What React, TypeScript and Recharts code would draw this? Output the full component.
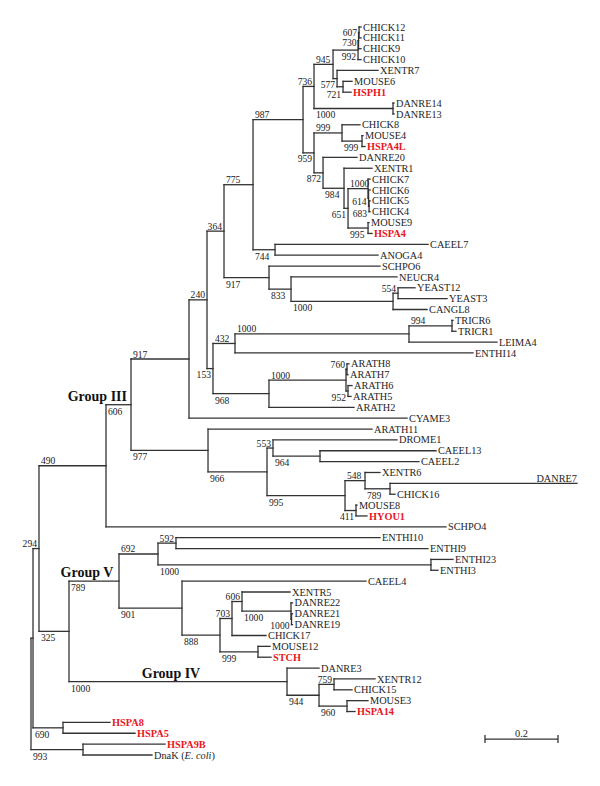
import React from "react";
import { ScatterChart, Scatter, XAxis, YAxis, ReferenceLine } from "recharts";

// leaves, top to bottom
const leafNames = [
  "CHICK12", "CHICK11", "CHICK9", "CHICK10", "XENTR7", "MOUSE6", "HSPH1", "DANRE14", "DANRE13",
  "CHICK8", "MOUSE4", "HSPA4L", "DANRE20", "XENTR1", "CHICK7", "CHICK6", "CHICK5", "CHICK4",
  "MOUSE9", "HSPA4", "CAEEL7", "ANOGA4", "SCHPO6", "NEUCR4", "YEAST12", "YEAST3", "CANGL8",
  "TRICR6", "TRICR1", "LEIMA4", "ENTHI14", "ARATH8", "ARATH7", "ARATH6", "ARATH5", "ARATH2",
  "CYAME3", "ARATH11", "DROME1", "CAEEL13", "CAEEL2", "XENTR6", "DANRE7", "CHICK16", "MOUSE8",
  "HYOU1", "SCHPO4", "ENTHI10", "ENTHI9", "ENTHI23", "ENTHI3", "CAEEL4", "XENTR5", "DANRE22",
  "DANRE21", "DANRE19", "CHICK17", "MOUSE12", "STCH", "DANRE3", "XENTR12", "CHICK15", "MOUSE3",
  "HSPA14", "HSPA8", "HSPA5", "HSPA9B", "DnaK (E. coli)",
];

const humanGenes = ["HSPH1", "HSPA4L", "HSPA4", "HYOU1", "STCH", "HSPA14", "HSPA8", "HSPA5", "HSPA9B"];

// [child, parent, branch length]
const rootBranches: [string, string, number][] = [
  ["B", "R", 0.0055], ["Q", "R", 0.1425], ["HSPA9B", "Q", 0.2247], ["DnaK (E. coli)", "Q", 0.189],
  ["S", "B", 0.0822], ["HSPA8", "S", 0.1288], ["HSPA5", "S", 0.1973], ["C", "B", 0.0164],
  ["D", "C", 0.1836], ["E", "C", 0.0822], ["G", "D", 0.0685], ["SCHPO4", "D", 0.9315],
  ["H", "G", 0.1589], ["n208", "G", 0.211], ["I", "H", 0.0493], ["CYAME3", "H", 0.5973],
  ["J", "I", 0.0466], ["n213", "I", 0.0164], ["L", "J", 0.0795], ["n269", "J", 0.1233],
  ["P", "L", 0.137], ["M", "L", 0.0603],
];

const hspa4Branches: [string, string, number][] = [
  ["N1", "P", 0.0301], ["V", "P", 0.0301], ["N2", "N1", 0.0521], ["DD", "N1", 0.2164],
  ["CHK", "N2", 0.0685], ["inner2", "CHK", 0.0014], ["inner1", "inner2", 0.0014],
  ["CHICK12", "inner1", 0.0055], ["CHICK11", "inner1", 0.0055], ["CHICK9", "inner2", 0.0068],
  ["CHICK10", "CHK", 0.0082], ["n577", "N2", 0.011], ["XENTR7", "n577", 0.1123],
  ["n721", "n577", 0.0164], ["MOUSE6", "n721", 0.0247], ["HSPH1", "n721", 0.0219],
  ["DANRE14", "DD", 0.0027], ["DANRE13", "DD", 0.0027], ["T", "V", 0.0767], ["CHICK8", "T", 0.0493],
  ["U", "T", 0.0548], ["MOUSE4", "U", 0.0027], ["HSPA4L", "U", 0.0082], ["W", "V", 0.0247],
  ["DANRE20", "W", 0.0932], ["X", "W", 0.0575], ["XENTR1", "X", 0.0767], ["Y", "X", 0.011],
  ["Z", "Y", 0.0548], ["CHICK7", "Z", 0.0055], ["n614", "Z", 0.0014], ["CHICK6", "n614", 0.0041],
  ["n683", "n614", 0.0014], ["CHICK5", "n683", 0.0027], ["CHICK4", "n683", 0.0027],
  ["AA", "Y", 0.0548], ["MOUSE9", "AA", 0.0027], ["HSPA4", "AA", 0.011],
  ["CAEEL7", "M", 0.4192], ["ANOGA4", "M", 0.2822],
];

const fungalBranches: [string, string, number][] = [
  ["SCHPO6", "n269", 0.3041], ["n291", "n269", 0.0603], ["NEUCR4", "n291", 0.2904],
  ["YC", "n291", 0.2795], ["n554", "YC", 0.0137], ["YEAST12", "n554", 0.0466],
  ["YEAST3", "n554", 0.1342], ["CANGL8", "YC", 0.0932],
];

const protistPlantBranches: [string, string, number][] = [
  ["n235", "n213", 0.0603], ["n409", "n235", 0.4767], ["ENTHI14", "n235", 0.6521],
  ["TRI", "n409", 0.1178], ["TRICR6", "TRI", 0.0027], ["TRICR1", "TRI", 0.011],
  ["LEIMA4", "n409", 0.2411], ["n269b", "n213", 0.1534], ["ARA", "n269b", 0.211],
  ["ARATH2", "n269b", 0.2329], ["n760", "ARA", 0.0027], ["ARATH8", "n760", 0.0055],
  ["ARATH7", "n760", 0.0027], ["n952", "ARA", 0.0055], ["ARATH6", "n952", 0.011],
  ["ARATH5", "n952", 0.0082],
];

const hyouBranches: [string, string, number][] = [
  ["ARATH11", "n208", 0.4493], ["n267", "n208", 0.1616], ["n273", "n267", 0.0164],
  ["DROME1", "n273", 0.3397], ["n320", "n273", 0.1288], ["CAEEL13", "n320", 0.3178],
  ["CAEEL2", "n320", 0.2712], ["n345", "n267", 0.2137], ["n365", "n345", 0.0548],
  ["XENTR6", "n365", 0.0411], ["n390", "n365", 0.0685], ["DANRE7", "n390", 0.5123],
  ["CHICK16", "n390", 0.0137], ["n356", "n345", 0.0301], ["MOUSE8", "n356", 0.0027],
  ["HYOU1", "n356", 0.0301],
];

const groupVBranches: [string, string, number][] = [
  ["F", "E", 0.137], ["n158", "F", 0.1068], ["n176", "n158", 0.0493], ["ENTHI10", "n176", 0.5589],
  ["ENTHI9", "n176", 0.6904], ["n431", "n158", 0.7479], ["ENTHI23", "n431", 0.0603],
  ["ENTHI3", "n431", 0.0192], ["n182", "F", 0.1726], ["CAEEL4", "n182", 0.5041],
  ["n220", "n182", 0.1041], ["n232", "n220", 0.0329], ["n242", "n232", 0.0274],
  ["XENTR5", "n242", 0.1315], ["n291d", "n242", 0.1342], ["DANRE22", "n291d", 0.0041],
  ["n291e", "n291d", 0.0014], ["DANRE21", "n291e", 0.0027], ["DANRE19", "n291e", 0.0027],
  ["CHICK17", "n232", 0.0932], ["n258", "n220", 0.1041], ["MOUSE12", "n258", 0.0329],
  ["STCH", "n258", 0.0356],
];

const groupIVBranches: [string, string, number][] = [
  ["n287", "E", 0.5973], ["DANRE3", "n287", 0.0877], ["n319", "n287", 0.0877],
  ["n334", "n319", 0.0411], ["XENTR12", "n334", 0.1123], ["CHICK15", "n334", 0.0493],
  ["n347", "n319", 0.0767], ["MOUSE3", "n347", 0.0575], ["HSPA14", "n347", 0.0219],
];

// bootstrap support (of 1000) per clade
const supportUpper: [string, number][] = [
  ["C", 294], ["S", 690], ["Q", 993], ["D", 490], ["E", 325], ["G", 606], ["H", 917], ["n208", 977],
  ["I", 240], ["J", 364], ["n213", 153], ["L", 775], ["n269", 917], ["P", 987], ["M", 744],
  ["N1", 736], ["V", 959], ["N2", 945], ["DD", 1000], ["CHK", 992], ["inner2", 730], ["inner1", 607],
  ["n577", 577], ["n721", 721], ["T", 999], ["U", 999], ["W", 872], ["X", 984], ["Y", 651],
  ["Z", 1000], ["n614", 614], ["n683", 683], ["AA", 995], ["n291", 833], ["YC", 1000], ["n554", 554],
  ["n235", 432], ["n409", 1000], ["TRI", 994], ["n269b", 968], ["ARA", 1000], ["n760", 760], ["n952", 952],
];
const supportLower: [string, number][] = [
  ["n267", 966], ["n273", 553], ["n320", 964], ["n345", 995], ["n365", 548], ["n390", 789],
  ["n356", 411], ["F", 789], ["n287", 1000], ["n158", 692], ["n176", 592], ["n431", 1000],
  ["n182", 901], ["n220", 888], ["n232", 703], ["n242", 606], ["n291d", 1000], ["n291e", 1000],
  ["n258", 999], ["n319", 944], ["n334", 759], ["n347", 960],
];

const groups: [string, string][] = [["G", "Group III"], ["F", "Group V"], ["n287", "Group IV"]];

const scaleBarLength = 0.2;

// ---- layout ----
const W = 600;
const H = 786;
const PX_PER_UNIT = 365;
const ROW_PX = 728 / 67;
const X0 = -31 / PX_PER_UNIT;
const X1 = X0 + W / PX_PER_UNIT;
const Y0 = -27 / ROW_PX;
const Y1 = Y0 + H / ROW_PX;

const FONT = "'Liberation Serif', 'DejaVu Serif', serif";
const LINE = "#333";
const RED = "#e8161e";

const allBranches = [
  ...rootBranches, ...hspa4Branches, ...fungalBranches, ...protistPlantBranches,
  ...hyouBranches, ...groupVBranches, ...groupIVBranches,
];

const parentOf: Record<string, string> = {};
const lenOf: Record<string, number> = {};
const childrenOf: Record<string, string[]> = {};
allBranches.forEach(([c, p, l]) => {
  parentOf[c] = p;
  lenOf[c] = l;
  (childrenOf[p] = childrenOf[p] || []).push(c);
});

const depth: Record<string, number> = {};
const setDepth = (n: string, d: number) => {
  depth[n] = d;
  (childrenOf[n] || []).forEach((c) => setDepth(c, d + lenOf[c]));
};
setDepth("R", 0);

const ypos: Record<string, number> = {};
leafNames.forEach((n, i) => (ypos[n] = i));
const setY = (n: string): number => {
  if (ypos[n] !== undefined) return ypos[n];
  const ys = childrenOf[n].map(setY);
  ypos[n] = (Math.min(...ys) + Math.max(...ys)) / 2;
  return ypos[n];
};
setY("R");

const horizontals = allBranches.map(([c, p]) => ({ x1: depth[p], x2: depth[c], y: ypos[c] }));
const verticals = Object.keys(childrenOf).map((n) => {
  const ys = childrenOf[n].map((c) => ypos[c]);
  return { x: depth[n], y1: Math.min(...ys), y2: Math.max(...ys) };
});

const leafPoints = leafNames.map((name) => ({
  x: depth[name],
  y: ypos[name],
  name,
  red: humanGenes.includes(name),
}));

const groupNodes = new Set(groups.map((g) => g[0]));
// crowded tiny clades: label placement tweaks
const labelMode: Record<string, string> = {
  inner1: "endMid",
  inner2: "endLowMid",
  CHK: "endBelow",
  n721: "endLow",
  n614: "endBelowUp",
  n683: "endLow",
};

const dyFor = (mode: string, start: boolean) => {
  if (mode.endsWith("Above")) return -1.5;
  if (mode.endsWith("LowMid")) return 5;
  if (mode.endsWith("Mid")) return 3.3;
  if (mode.endsWith("Low")) return 11;
  if (mode.endsWith("BelowUp")) return 7.3;
  return start ? 10 : 9.5;
};

const supportPoints = [...supportUpper, ...supportLower].map(([n, v]) => {
  const p = parentOf[n];
  const upper = ypos[n] < ypos[p];
  const branchPx = lenOf[n] * PX_PER_UNIT;
  let mode = labelMode[n];
  if (!mode) {
    if (groupNodes.has(n)) mode = "startBelow";
    else if (branchPx >= 18) mode = upper ? "startAbove" : "startBelow";
    else mode = upper ? "endAbove" : "endBelow";
  }
  const start = mode.startsWith("start");
  return {
    x: start ? depth[p] : depth[n],
    y: ypos[n],
    text: String(v),
    anchor: start ? "start" : "end",
    dx: start ? 2 : -2,
    dy: dyFor(mode, start),
  };
});

const groupPoints = groups.map(([n, label]) => {
  const p = parentOf[n];
  const branchPx = lenOf[n] * PX_PER_UNIT;
  const short = branchPx < 40;
  return {
    x: short ? depth[n] : (depth[p] + depth[n]) / 2,
    y: ypos[n],
    text: label,
    anchor: short ? "end" : "middle",
    dx: short ? -4 : -7,
    dy: -4,
  };
});

// scale bar placement (bottom right)
const SB_X = 1.2438;
const SB_Y = 65.53;
const SB_TICK = 4 / ROW_PX;
const scaleBarLabel = [{ x: SB_X + scaleBarLength / 2, y: SB_Y, text: String(scaleBarLength) }];

const LeafLabel = (props: any) => {
  const { cx, cy, payload } = props;
  const name: string = payload.name;
  const m = name.match(/^(.*)\((.*)\)$/);
  const width = name.length * 6.3;
  const above = cx + width > W - 4;
  return (
    <text
      x={above ? cx : cx + 2}
      y={above ? cy - 1.5 : cy + 3.6}
      textAnchor={above ? "end" : "start"}
      fontFamily={FONT}
      fontSize={10.3}
      fontWeight={payload.red ? "bold" : "normal"}
      fill={payload.red ? RED : "#1e1e1e"}
    >
      {m ? (
        <>
          {m[1]}(<tspan fontStyle="italic">{m[2]}</tspan>)
        </>
      ) : (
        name
      )}
    </text>
  );
};

const SupportLabel = (props: any) => {
  const { cx, cy, payload } = props;
  return (
    <text
      x={cx + payload.dx}
      y={cy + payload.dy}
      textAnchor={payload.anchor}
      fontFamily={FONT}
      fontSize={9.6}
      fill="#222"
    >
      {payload.text}
    </text>
  );
};

const GroupLabel = (props: any) => {
  const { cx, cy, payload } = props;
  return (
    <text
      x={cx + payload.dx}
      y={cy + payload.dy}
      textAnchor={payload.anchor}
      fontFamily={FONT}
      fontSize={14}
      fontWeight="bold"
      fill="#111"
    >
      {payload.text}
    </text>
  );
};

const ScaleLabel = (props: any) => {
  const { cx, cy, payload } = props;
  return (
    <text x={cx} y={cy - 2.5} textAnchor="middle" fontFamily={FONT} fontSize={10.3} fill="#222">
      {payload.text}
    </text>
  );
};

const App: React.FC = () => {
  return (
    <div style={{ position: "absolute", left: 0, top: 0, width: W, height: H, background: "#fff" }}>
      <ScatterChart width={W} height={H} margin={{ top: 0, right: 0, bottom: 0, left: 0 }}>
        <XAxis type="number" dataKey="x" domain={[X0, X1]} allowDataOverflow hide />
        <YAxis type="number" dataKey="y" domain={[Y0, Y1]} allowDataOverflow reversed hide />
        {horizontals.map((h, i) => (
          <ReferenceLine
            key={"h" + i}
            segment={[{ x: h.x1, y: h.y }, { x: h.x2, y: h.y }]}
            stroke={LINE}
            strokeWidth={1.3}
            strokeLinecap="square"
            ifOverflow="visible"
          />
        ))}
        {verticals.map((v, i) => (
          <ReferenceLine
            key={"v" + i}
            segment={[{ x: v.x, y: v.y1 }, { x: v.x, y: v.y2 }]}
            stroke={LINE}
            strokeWidth={1.3}
            strokeLinecap="square"
            ifOverflow="visible"
          />
        ))}
        <ReferenceLine
          segment={[{ x: SB_X, y: SB_Y }, { x: SB_X + scaleBarLength, y: SB_Y }]}
          stroke={LINE}
          strokeWidth={1.3}
          ifOverflow="visible"
        />
        <ReferenceLine
          segment={[{ x: SB_X, y: SB_Y - SB_TICK }, { x: SB_X, y: SB_Y + SB_TICK }]}
          stroke={LINE}
          strokeWidth={1.3}
          ifOverflow="visible"
        />
        <ReferenceLine
          segment={[{ x: SB_X + scaleBarLength, y: SB_Y - SB_TICK }, { x: SB_X + scaleBarLength, y: SB_Y + SB_TICK }]}
          stroke={LINE}
          strokeWidth={1.3}
          ifOverflow="visible"
        />
        <Scatter data={leafPoints} shape={LeafLabel} isAnimationActive={false} />
        <Scatter data={supportPoints} shape={SupportLabel} isAnimationActive={false} />
        <Scatter data={groupPoints} shape={GroupLabel} isAnimationActive={false} />
        <Scatter data={scaleBarLabel} shape={ScaleLabel} isAnimationActive={false} />
      </ScatterChart>
    </div>
  );
};

export default App;
